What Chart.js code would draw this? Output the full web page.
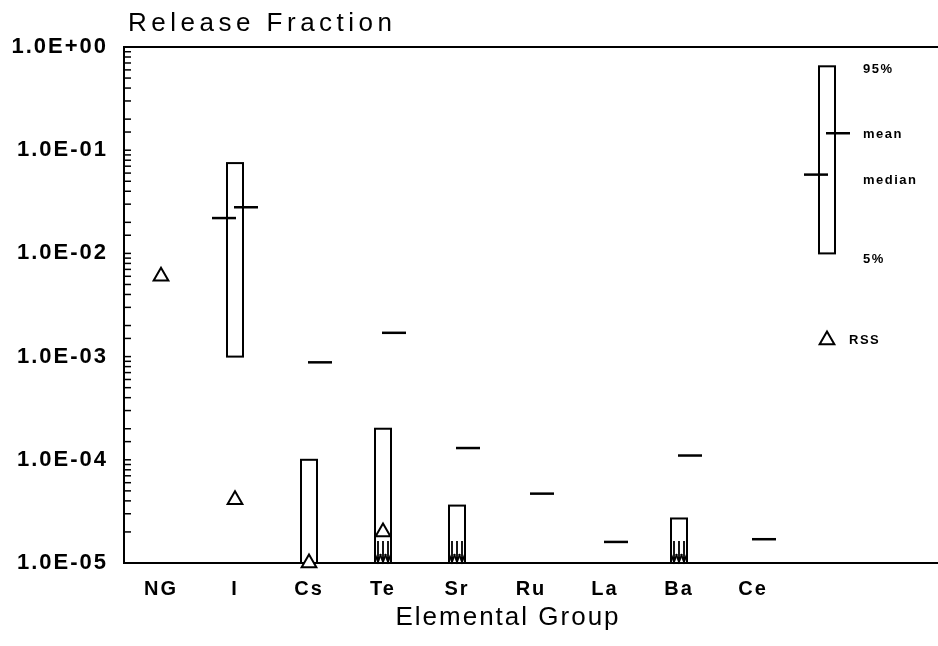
<!DOCTYPE html>
<html>
<head>
<meta charset="utf-8">
<script src="https://cdn.jsdelivr.net/npm/chart.js@4/dist/chart.umd.min.js"></script>
<style>
  html, body { margin: 0; padding: 0; background: #fff; }
  canvas { display: block; }
</style>
</head>
<body>
<canvas id="release" width="938" height="646"></canvas>
<script>
// Release fraction by elemental group (log scale)
const groups = ['NG', 'I', 'Cs', 'Te', 'Sr', 'Ru', 'La', 'Ba', 'Ce'];
const p95 = [null, 7.5e-2, 1.0e-4, 2.0e-4, 3.6e-5, null, null, 2.7e-5, null];
const p5 = [null, 1.0e-3, null, null, null, null, null, null, null]; // null = below 1.0E-05
const medians = [null, 2.2e-2, null, null, null, null, null, null, null];
const means = [null, 2.8e-2, 8.8e-4, 1.7e-3, 1.3e-4, 4.7e-5, 1.6e-5, 1.1e-4, 1.7e-5];
const rss = [6.0e-3, 4.1e-5, 1.0e-5, 2.0e-5, null, null, null, null, null];
const belowScale = [false, false, false, true, true, false, false, true, false];

// legend key drawn as a sample bar at position 10
const legendPos = 10;
const legendP95 = 0.65;
const legendP5 = 1.0e-2;
const legendMean = 0.146;
const legendMedian = 0.058;
const legendRss = 1.45e-3;
const legendLabels = ['95%', 'mean', 'median', '5%', 'RSS'];

function decadeLabel(v) {
    const e = Math.round(Math.log10(v));
    if (Math.abs(Math.log10(v) - e) > 1e-6) return '';
    return '1.0E' + (e < 0 ? '-' : '+') + String(Math.abs(e)).padStart(2, '0');
}

const rssPoints = [];
rss.forEach((v, i) => { if (v !== null) rssPoints.push({ x: i + 1, y: v }); });
rssPoints.push({ x: legendPos, y: legendRss });

function drawBar(ctx, xs, ys, area, pos, hi, lo, med, mean, arrows) {
    const x = xs.getPixelForValue(pos);
    ctx.lineWidth = 2;
    if (hi !== null) {
        const top = ys.getPixelForValue(hi);
        const bot = lo !== null ? ys.getPixelForValue(lo) : area.bottom;
        ctx.strokeRect(x - 8, top, 16, bot - top);
    }
    ctx.lineWidth = 2.5;
    if (med !== null) {
        const y = ys.getPixelForValue(med);
        ctx.beginPath(); ctx.moveTo(x - 23, y); ctx.lineTo(x + 1, y); ctx.stroke();
    }
    if (mean !== null) {
        const y = ys.getPixelForValue(mean);
        ctx.beginPath(); ctx.moveTo(x - 1, y); ctx.lineTo(x + 23, y); ctx.stroke();
    }
    if (arrows) {
        ctx.lineWidth = 1.8;
        const b = area.bottom;
        [-5, 0, 5].forEach(dx => {
            ctx.beginPath();
            ctx.moveTo(x + dx, b - 22); ctx.lineTo(x + dx, b - 1);
            ctx.moveTo(x + dx - 3, b - 9); ctx.lineTo(x + dx, b - 1); ctx.lineTo(x + dx + 3, b - 9);
            ctx.stroke();
        });
    }
}

const marksPlugin = {
    id: 'releaseMarks',
    beforeDraw(chart) {
        chart.ctx.letterSpacing = '2px';
    },
    beforeDatasetsDraw(chart) {
        const ctx = chart.ctx;
        const area = chart.chartArea;
        const xs = chart.scales.x, ys = chart.scales.y;
        ctx.save();
        ctx.strokeStyle = '#000';
        ctx.lineCap = 'butt';

        // top frame line
        ctx.lineWidth = 2;
        ctx.beginPath(); ctx.moveTo(area.left, area.top); ctx.lineTo(area.right, area.top); ctx.stroke();

        // inward minor ticks on the y axis
        ctx.lineWidth = 1.5;
        ys.ticks.forEach(t => {
            const y = ys.getPixelForValue(t.value);
            if (y <= area.top + 1 || y >= area.bottom - 1) return;
            ctx.beginPath(); ctx.moveTo(area.left, y); ctx.lineTo(area.left + 7, y); ctx.stroke();
        });

        groups.forEach((g, i) => {
            drawBar(ctx, xs, ys, area, i + 1, p95[i], p5[i], medians[i], means[i], belowScale[i]);
        });
        drawBar(ctx, xs, ys, area, legendPos, legendP95, legendP5, legendMedian, legendMean, false);
        ctx.restore();
    },
    afterDraw(chart) {
        const ctx = chart.ctx;
        const area = chart.chartArea;
        const xs = chart.scales.x, ys = chart.scales.y;
        ctx.save();
        ctx.fillStyle = '#000';
        ctx.textBaseline = 'middle';

        // legend text
        ctx.font = 'bold 13px "Liberation Sans", Arial, sans-serif';
        ctx.letterSpacing = '1.5px';
        const lx = xs.getPixelForValue(legendPos);
        const ly = [legendP95, legendMean, legendMedian, legendP5];
        const off = [3, 1, 6, 6];
        ly.forEach((v, k) => ctx.fillText(legendLabels[k], lx + 36, ys.getPixelForValue(v) + off[k]));
        ctx.fillText(legendLabels[4], lx + 22, ys.getPixelForValue(legendRss));

        // titles
        ctx.font = '26px "Liberation Sans", Arial, sans-serif';
        ctx.letterSpacing = '4.5px';
        ctx.textAlign = 'left';
        ctx.fillText('Release Fraction', area.left + 4, 24);
        ctx.letterSpacing = '2px';
        ctx.textAlign = 'center';
        ctx.fillText('Elemental Group', 508, 618);
        ctx.restore();
    }
};

new Chart(document.getElementById('release'), {
    type: 'scatter',
    data: {
        datasets: [{
            label: 'RSS',
            data: rssPoints,
            pointStyle: 'triangle',
            pointRadius: 8.5,
            pointHoverRadius: 8.5,
            borderColor: '#000',
            backgroundColor: '#fff',
            borderWidth: 2,
            clip: false
        }]
    },
    plugins: [marksPlugin],
    options: {
        responsive: false,
        animation: false,
        devicePixelRatio: 1,
        layout: { autoPadding: false, padding: { top: 47, right: 0, left: 0, bottom: 0 } },
        plugins: {
            legend: { display: false },
            tooltip: { enabled: false },
            title: { display: false }
        },
        scales: {
            x: {
                type: 'linear',
                min: 0.5,
                max: 11.5,
                grid: { display: false },
                border: { display: true, color: '#000', width: 2 },
                ticks: {
                    autoSkip: false,
                    maxRotation: 0,
                    padding: 6,
                    color: '#000',
                    font: { family: '"Liberation Sans", Arial, sans-serif', size: 20, weight: 'bold' },
                    callback: v => groups[Math.round(v) - 1] || ''
                },
                afterBuildTicks: s => { s.ticks = groups.map((g, i) => ({ value: i + 1 })); },
                afterFit: s => { s.height = 83; }
            },
            y: {
                type: 'logarithmic',
                min: 1e-5,
                max: 1,
                grid: { display: false },
                border: { display: true, color: '#000', width: 2 },
                ticks: {
                    autoSkip: false,
                    padding: 8,
                    color: '#000',
                    font: { family: '"Liberation Sans", Arial, sans-serif', size: 22, weight: 'bold' },
                    callback: v => decadeLabel(v)
                },
                afterFit: s => { s.width = 124; }
            }
        }
    }
});
</script>
</body>
</html>
